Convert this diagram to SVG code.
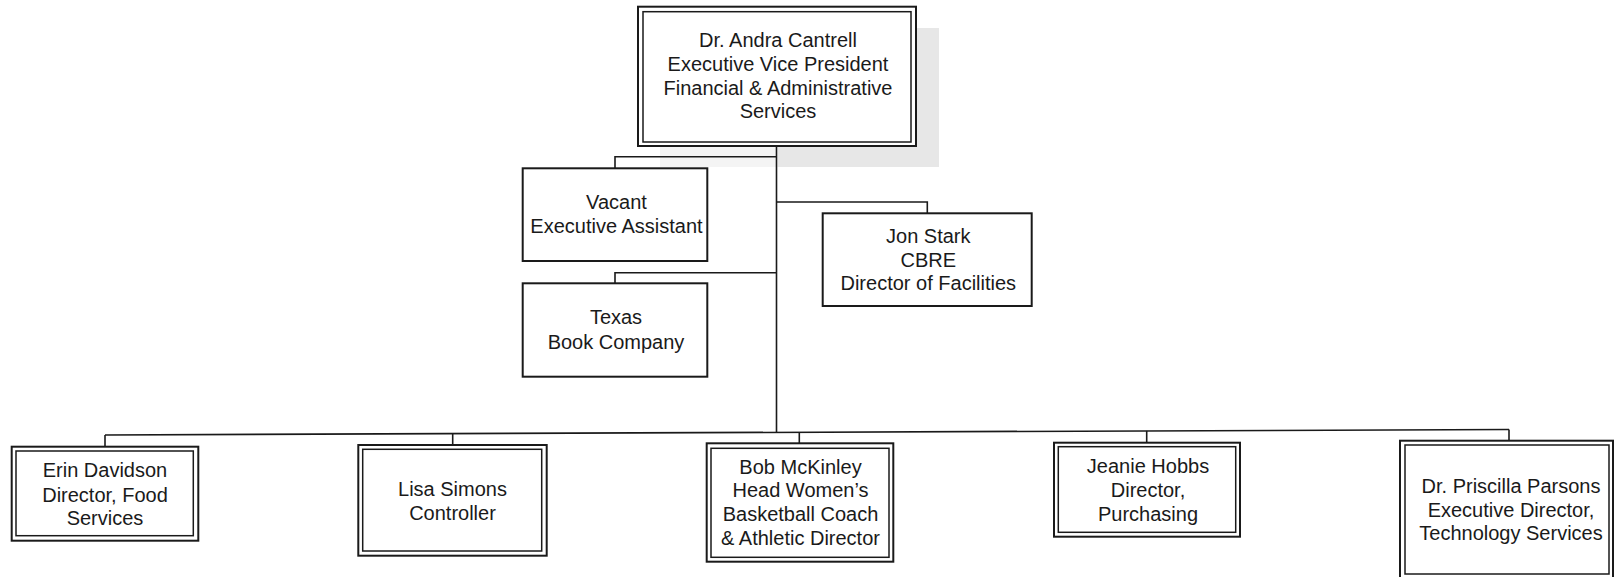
<svg xmlns="http://www.w3.org/2000/svg" width="1614" height="577" viewBox="0 0 1614 577">
<style>
.bg{fill:#ffffff}
.o{fill:#ffffff;stroke:#1a1a1a;stroke-width:2}
.i{fill:none;stroke:#1a1a1a;stroke-width:1.5}
.s{fill:#ffffff;stroke:#1a1a1a;stroke-width:2}
.c{fill:none;stroke:#1a1a1a;stroke-width:1.6}
text{font-family:"Liberation Sans",Arial,sans-serif;font-size:20px;fill:#1a1a1a;text-anchor:middle}
</style>
<rect class="bg" x="0" y="0" width="1614" height="577"/>
<g id="shadow">
<rect x="660" y="146" width="120" height="21" fill="#f4f4f4"/>
<rect x="778" y="28" width="161" height="139" fill="#e7e7e7"/>
</g>
<g id="connectors">
<path class="c" d="M776.5,146 V432.5"/>
<path class="c" d="M776.5,156.7 H615 V168.3"/>
<path class="c" d="M776.5,202 H927.3 V213.3"/>
<path class="c" d="M776.5,272.7 H615 V283.3"/>
<path class="c" d="M105,435 L1509,429.5"/>
<path class="c" d="M105,435 V446.7"/>
<path class="c" d="M452.7,433.6 V445"/>
<path class="c" d="M799.3,432.3 V443.3"/>
<path class="c" d="M1146.7,430.9 V442.7"/>
<path class="c" d="M1509,429.5 V440.7"/>
</g>
<g id="node-cantrell">
<rect class="o" x="638" y="6.7" width="278" height="139.3"/>
<rect class="i" x="643" y="11.7" width="268" height="130.3"/>
<text x="778" y="47">Dr. Andra Cantrell</text>
<text x="778" y="71">Executive Vice President</text>
<text x="778" y="94.5">Financial &amp; Administrative</text>
<text x="778" y="118">Services</text>
</g>
<g id="node-vacant">
<rect class="s" x="522.7" y="168.3" width="184.6" height="92.7"/>
<text x="616.5" y="209.3">Vacant</text>
<text x="616.5" y="232.7">Executive Assistant</text>
</g>
<g id="node-texas">
<rect class="s" x="522.7" y="283.3" width="184.6" height="93.4"/>
<text x="616" y="324">Texas</text>
<text x="616" y="349">Book Company</text>
</g>
<g id="node-stark">
<rect class="s" x="822.7" y="213.3" width="209" height="92.7"/>
<text x="928.3" y="243.3">Jon Stark</text>
<text x="928.3" y="266.7">CBRE</text>
<text x="928.3" y="290">Director of Facilities</text>
</g>
<g id="node-davidson">
<rect class="o" x="11.7" y="446.7" width="186.6" height="94"/>
<rect class="i" x="16" y="451" width="177.3" height="84.7"/>
<text x="105" y="476.7">Erin Davidson</text>
<text x="105" y="501.7">Director, Food</text>
<text x="105" y="525">Services</text>
</g>
<g id="node-simons">
<rect class="o" x="358.3" y="445" width="188.4" height="110.7"/>
<rect class="i" x="362.7" y="449.3" width="179" height="101.7"/>
<text x="452.5" y="496">Lisa Simons</text>
<text x="452.5" y="520">Controller</text>
</g>
<g id="node-mckinley">
<rect class="o" x="706.7" y="443.3" width="186.6" height="118.4"/>
<rect class="i" x="711" y="448.3" width="178" height="109"/>
<text x="800.5" y="474">Bob McKinley</text>
<text x="800.5" y="496.7">Head Women’s</text>
<text x="800.5" y="520.7">Basketball Coach</text>
<text x="800.5" y="545">&amp; Athletic Director</text>
</g>
<g id="node-hobbs">
<rect class="o" x="1054" y="442.7" width="186" height="94"/>
<rect class="i" x="1058.3" y="446.7" width="177.4" height="85.6"/>
<text x="1148" y="473.3">Jeanie Hobbs</text>
<text x="1148" y="496.7">Director,</text>
<text x="1148" y="521">Purchasing</text>
</g>
<g id="node-parsons">
<rect class="o" x="1400" y="440.7" width="213" height="139"/>
<rect class="i" x="1405" y="445" width="204" height="129"/>
<text x="1511" y="492.7">Dr. Priscilla Parsons</text>
<text x="1511" y="516.7">Executive Director,</text>
<text x="1511" y="540">Technology Services</text>
</g>
</svg>
